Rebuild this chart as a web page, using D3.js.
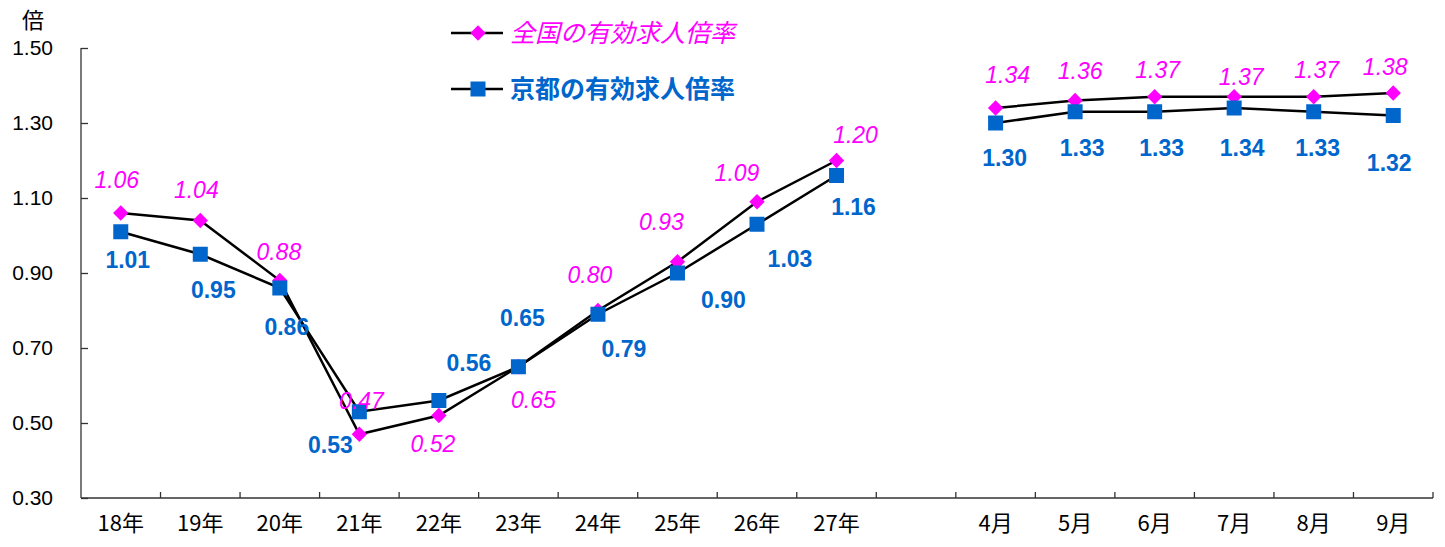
<!DOCTYPE html>
<html><head><meta charset="utf-8">
<script src="https://cdn.jsdelivr.net/npm/d3@7"></script>
<style>
html,body{margin:0;padding:0;background:#fff;}
svg{display:block;}
</style>
</head><body>
<svg id="c" width="1445" height="547"></svg>
<script>
// ---- data ----
const categories = ["18年","19年","20年","21年","22年","23年","24年","25年","26年","27年","","4月","5月","6月","7月","8月","9月"];
const nationalValues = [1.06,1.04,0.88,0.47,0.52,0.65,0.80,0.93,1.09,1.20,null,1.34,1.36,1.37,1.37,1.37,1.38];
const kyotoValues    = [1.01,0.95,0.86,0.53,0.56,0.65,0.79,0.90,1.03,1.16,null,1.30,1.33,1.33,1.34,1.33,1.32];
const yTicks = [0.30,0.50,0.70,0.90,1.10,1.30,1.50];
const seriesNames = ["全国の有効求人倍率","京都の有効求人倍率"];
const unitLabel = "倍";

// ---- label placement (layout only, pixel offsets from point) ----
const nationalLabelOffset = [[-4,-33],[-4,-31],[-1,-29],[2,-33],[-6,28],[15,33],[-8,-36],[-16,-40],[-20,-29],[19,-26],null,[12,-33],[5,-30],[3,-27],[7,-20],[3,-27],[-8,-26]];
const kyotoLabelOffset    = [[7,28],[13,36],[7,39],[-29,33],[30,-38],[4,-49],[26,35],[46,27],[33,35],[17,31],null,[9,35],[7,36],[7,36],[8,40],[4,36],[-4,47]];

const MAGENTA = "#FF00FF", BLUE = "#0066CC";
const svg = d3.select("#c");
const L = 81, R = 1433, T = 48, B = 498;

const x = d3.scaleBand().domain(d3.range(categories.length)).range([L, R]);
const y = d3.scaleLinear().domain([0.30, 1.50]).range([B, T]);
const cx = i => x(i) + x.bandwidth()/2;

// axes
const yAxis = d3.axisLeft(y).tickValues(yTicks).tickSize(-7).tickFormat(d3.format(".2f")).tickPadding(28);
const gy = svg.append("g").attr("transform",`translate(${L},0)`).call(yAxis);
gy.select(".domain").attr("stroke","#333").attr("stroke-width",1.3).attr("d",`M0,${T}V${B}`);
gy.selectAll(".tick line").attr("stroke","#333").attr("stroke-width",1.3);
gy.selectAll(".tick text").attr("font-family","Liberation Sans, Arial, sans-serif").attr("font-size",21).attr("fill","#000");

const xAxis = d3.axisBottom(x).tickSize(0).tickFormat(i => categories[i]);
const gx = svg.append("g").attr("transform",`translate(0,${B})`).call(xAxis);
gx.select(".domain").attr("stroke","#333").attr("stroke-width",1.3).attr("d",`M${L},0H${R}`);
gx.selectAll(".tick text").attr("font-family","Noto Sans CJK JP, sans-serif").attr("font-size",22).attr("fill","#000").attr("dy","1.38em");
// boundary tick marks
svg.append("g").selectAll("line").data(d3.range(1, categories.length+1)).join("line")
  .attr("x1", i => x(i-1)+x.bandwidth()).attr("x2", i => x(i-1)+x.bandwidth())
  .attr("y1", B).attr("y2", B-6).attr("stroke","#333").attr("stroke-width",1.3);

// unit label
svg.append("text").attr("x",33).attr("y",28).attr("text-anchor","middle")
  .attr("font-family","Noto Sans CJK JP, sans-serif").attr("font-size",22).text(unitLabel);

// lines
const line = d3.line().defined(d => d.v !== null).x(d => cx(d.i)).y(d => y(d.v));
function series(vals){ return vals.map((v,i)=>({v,i})); }
[nationalValues, kyotoValues].forEach(vals=>{
  svg.append("path").datum(series(vals)).attr("d",line).attr("fill","none").attr("stroke","#000").attr("stroke-width",2.5);
});

// markers
const diamond = d3.symbol().type(d3.symbolDiamond2).size(150);
svg.append("g").selectAll("path").data(series(nationalValues).filter(d=>d.v!==null)).join("path")
  .attr("d", diamond).attr("transform", d=>`translate(${cx(d.i)},${y(d.v)})`).attr("fill",MAGENTA);
const sq = 15;
svg.append("g").selectAll("rect").data(series(kyotoValues).filter(d=>d.v!==null)).join("rect")
  .attr("x", d=>cx(d.i)-sq/2).attr("y", d=>y(d.v)-sq/2).attr("width",sq).attr("height",sq).attr("fill",BLUE);

// labels
svg.append("g").selectAll("text").data(series(nationalValues).filter(d=>d.v!==null)).join("text")
  .attr("x", d=>cx(d.i)+nationalLabelOffset[d.i][0]).attr("y", d=>y(d.v)+nationalLabelOffset[d.i][1]+8)
  .attr("text-anchor","middle").attr("font-family","Liberation Sans, Arial, sans-serif").attr("font-style","italic")
  .attr("font-size",23).attr("fill",MAGENTA).text(d=>d3.format(".2f")(d.v));
svg.append("g").selectAll("text").data(series(kyotoValues).filter(d=>d.v!==null)).join("text")
  .attr("x", d=>cx(d.i)+kyotoLabelOffset[d.i][0]).attr("y", d=>y(d.v)+kyotoLabelOffset[d.i][1]+8)
  .attr("text-anchor","middle").attr("font-family","Liberation Sans, Arial, sans-serif").attr("font-weight","bold")
  .attr("font-size",23).attr("fill",BLUE).text(d=>d3.format(".2f")(d.v));

// legend
const lg = svg.append("g");
[[33, MAGENTA, "italic", "normal"],[89, BLUE, "normal", "bold"]].forEach((s,k)=>{
  lg.append("line").attr("x1",451).attr("x2",503).attr("y1",s[0]).attr("y2",s[0]).attr("stroke","#000").attr("stroke-width",2.5);
  if(k===0) lg.append("path").attr("d",diamond).attr("transform",`translate(478,${s[0]})`).attr("fill",MAGENTA);
  else lg.append("rect").attr("x",478-sq/2).attr("y",s[0]-sq/2).attr("width",sq).attr("height",sq).attr("fill",BLUE);
  lg.append("text").attr("x",510).attr("y",s[0]+9).attr("font-family","Noto Sans CJK JP, sans-serif")
    .attr("font-size",25).attr("font-style",s[2]).attr("font-weight",s[3]).attr("fill",s[1]).text(seriesNames[k]);
});
</script>
</body></html>
